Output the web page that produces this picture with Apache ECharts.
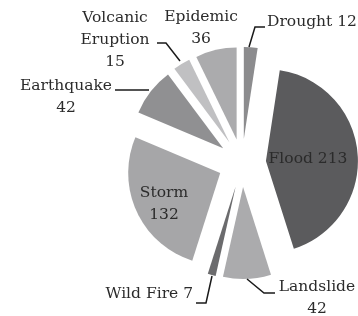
<!DOCTYPE html>
<html>
<head>
<meta charset="utf-8">
<script src="https://cdn.jsdelivr.net/npm/echarts@6/dist/echarts.min.js"></script>
<style>
html,body{margin:0;padding:0;background:#fff;}
#chart{width:358px;height:316px;}
</style>
</head>
<body>
<div id="chart"></div>
<script>
const categories = ['Drought', 'Flood', 'Landslide', 'Wild Fire', 'Storm', 'Earthquake', 'Volcanic Eruption', 'Epidemic'];
const values = [12, 213, 42, 7, 132, 42, 15, 36];
const colors = ['#8c8c8e', '#5b5b5d', '#ababad', '#6b6b6d', '#a6a6a8', '#909092', '#c0c0c2', '#ababad'];
const lineBreakLabels = ['Landslide', 'Storm', 'Earthquake', 'Volcanic Eruption', 'Epidemic'];

// label placement (layout only)
const labelPlace = {
  'Drought':           {x: 267, y: 22, align: 'left',  line: [[249,47],[255,27],[265,27]]},
  'Flood':             {x: 308, y: 159, align: 'center'},
  'Landslide':         {x: 317, y: 298, align: 'center', line: [[247,279],[264,293],[275,293]]},
  'Wild Fire':         {x: 193, y: 294, align: 'right', line: [[212,276],[206,303],[196,303]]},
  'Storm':             {x: 164, y: 204, align: 'center'},
  'Earthquake':        {x: 66,  y: 97,  align: 'center', line: [[149,90],[115,90]]},
  'Volcanic Eruption': {x: 115, y: 40,  align: 'center', line: [[180,61],[166,43],[157,43]]},
  'Epidemic':          {x: 201, y: 28,  align: 'center'}
};

function labelText(name, value) {
  const n = name === 'Volcanic Eruption' ? 'Volcanic\nEruption' : name;
  return n + (lineBreakLabels.includes(name) ? '\n' : ' ') + value;
}

const data = categories.map((c, i) => ({
  name: c,
  value: values[i],
  selected: true,
  itemStyle: {color: colors[i]}
}));

const graphics = [];
categories.forEach((c, i) => {
  const pl = labelPlace[c];
  if (pl.line) {
    graphics.push({
      type: 'polyline',
      silent: true,
      z: 100,
      shape: {points: pl.line},
      style: {stroke: '#1a1a1a', lineWidth: 1.5, fill: null}
    });
  }
  graphics.push({
    type: 'text',
    silent: true,
    z: 100,
    x: pl.x,
    y: pl.y,
    style: {
      text: labelText(c, values[i]),
      fontFamily: 'DejaVu Serif',
      fontSize: 15.5,
      lineHeight: 22,
      fill: '#2b2b2b',
      align: pl.align,
      verticalAlign: 'middle'
    }
  });
});

const chart = echarts.init(document.getElementById('chart'), null, {renderer: 'canvas'});
chart.setOption({
  animation: false,
  backgroundColor: '#ffffff',
  series: [{
    type: 'pie',
    z: 2,
    center: [242, 163],
    radius: [0, 92],
    startAngle: 90,
    clockwise: true,
    selectedMode: 'multiple',
    selectedOffset: 24,
    avoidLabelOverlap: false,
    emphasis: {disabled: true},
    itemStyle: {borderWidth: 0},
    label: {show: false},
    labelLine: {show: false},
    data: data
  }],
  graphic: graphics
});
</script>
</body>
</html>
